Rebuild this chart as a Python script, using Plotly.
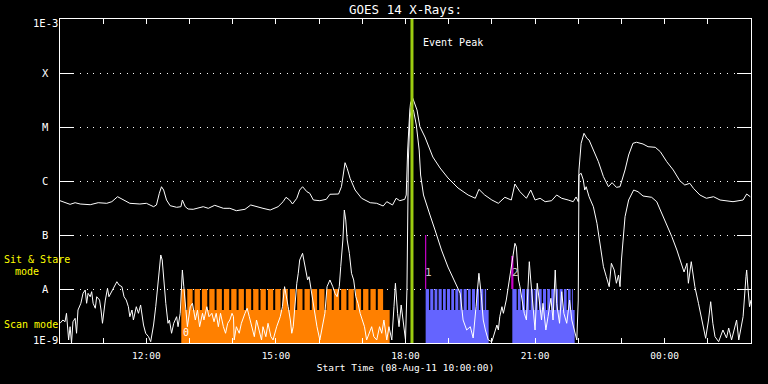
import math
import plotly.graph_objects as go
import pandas as pd

# ---------------- data (times in minutes after 2011-08-08 10:00, flux as log10 W/m^2) ----------------
START = pd.Timestamp("2011-08-08 10:00:00")

long_channel = [
    (0, -6.365), (7, -6.402), (14, -6.432), (21, -6.402), (28, -6.426), (42, -6.439), (53, -6.402),
    (65, -6.413), (72, -6.383), (80, -6.291), (88, -6.352), (97, -6.413), (111, -6.426), (120, -6.413),
    (130, -6.476), (134, -6.444), (138, -6.228), (141, -6.106), (144, -6.167), (148, -6.352), (153, -6.457),
    (162, -6.487), (168, -6.476), (170, -6.352), (174, -6.476), (178, -6.519), (185, -6.524), (199, -6.476),
    (206, -6.506), (215, -6.450), (227, -6.506), (236, -6.506), (245, -6.550), (257, -6.524), (265, -6.444),
    (273, -6.476), (282, -6.506), (292, -6.537), (303, -6.476), (310, -6.383), (314, -6.302), (319, -6.352),
    (323, -6.426), (329, -6.320), (333, -6.167), (337, -6.106), (343, -6.198), (347, -6.228), (352, -6.352),
    (361, -6.365), (370, -6.339), (375, -6.246), (387, -6.241), (391, -6.106), (394, -5.857), (396, -5.661),
    (399, -5.765), (403, -5.950), (410, -6.167), (419, -6.320), (431, -6.402), (440, -6.413), (449, -6.463),
    (454, -6.383), (462, -6.444), (467, -6.320), (472, -6.365), (479, -6.339), (481, -6.259), (483, -5.426),
    (486, -4.685), (487, -4.556), (490, -4.463), (496, -4.685), (500, -4.994), (507, -5.185), (518, -5.556),
    (528, -5.759), (539, -5.944), (553, -6.130), (567, -6.259), (577, -6.320), (582, -6.154), (590, -6.259),
    (600, -6.352), (609, -6.413), (618, -6.302), (627, -6.352), (632, -6.056), (639, -6.198), (648, -6.320),
    (654, -6.167), (660, -6.352), (667, -6.320), (674, -6.383), (683, -6.365), (690, -6.259), (697, -6.320),
    (706, -6.352), (713, -6.383), (717, -6.296), (720, -6.383), (721, -5.796), (724, -5.302), (728, -5.117),
    (732, -5.209), (735, -5.241), (741, -5.426), (748, -5.643), (755, -5.920), (762, -6.106), (767, -6.031),
    (773, -6.117), (778, -6.106), (785, -5.796), (790, -5.519), (796, -5.302), (801, -5.283), (810, -5.315),
    (817, -5.365), (827, -5.376), (834, -5.457), (843, -5.643), (852, -5.796), (861, -5.994), (868, -6.074),
    (875, -6.043), (880, -6.135), (889, -6.259), (898, -6.320), (908, -6.291), (917, -6.352), (926, -6.370),
    (935, -6.383), (949, -6.352), (954, -6.241), (959, -6.291),
]

short_channel = [
    (0, -8.635), (4, -8.574), (7, -8.606), (9, -8.450), (12, -8.944), (14, -8.698), (16, -9.0), (18, -8.606),
    (21, -8.543), (23, -8.820), (25, -8.389), (29, -8.265), (32, -8.080), (35, -8.019), (37, -8.265),
    (39, -8.080), (42, -8.143), (44, -8.050), (46, -8.265), (49, -8.357), (51, -8.143), (55, -8.204),
    (57, -8.389), (59, -8.635), (63, -8.204), (66, -7.987), (68, -8.143), (72, -8.050), (75, -7.957),
    (79, -7.865), (82, -7.926), (86, -7.957), (89, -8.143), (92, -8.204), (95, -8.328), (97, -8.513),
    (100, -8.389), (102, -8.574), (106, -8.328), (109, -8.450), (112, -8.296), (116, -8.667), (119, -8.820),
    (123, -8.883), (126, -8.976), (130, -8.667), (133, -8.328), (135, -8.019), (138, -7.587), (140, -7.370),
    (142, -7.463), (144, -7.833), (147, -8.265), (150, -8.635), (152, -8.574), (155, -8.820), (158, -8.635),
    (162, -8.513), (164, -8.698), (167, -8.450), (169, -7.894), (170, -7.648), (172, -7.957), (175, -8.450),
    (177, -8.698), (181, -8.328), (184, -8.265), (188, -8.574), (191, -8.389), (194, -8.698), (198, -8.450),
    (200, -8.574), (204, -8.328), (207, -8.513), (211, -8.450), (214, -8.606), (217, -8.450), (220, -8.698),
    (223, -8.450), (227, -8.698), (230, -8.820), (233, -8.635), (236, -8.574), (239, -8.450), (241, -8.513),
    (242, -8.944), (245, -8.698), (249, -8.820), (252, -8.635), (257, -8.450), (260, -8.357), (263, -8.513),
    (266, -8.698), (270, -8.883), (273, -8.574), (277, -8.759), (280, -8.944), (282, -8.698), (286, -8.883),
    (289, -8.635), (293, -8.883), (296, -8.944), (301, -8.698), (306, -8.513), (309, -8.328), (312, -7.957),
    (314, -8.080), (317, -8.328), (320, -8.574), (322, -8.820), (324, -8.698), (326, -8.328), (329, -7.894),
    (331, -7.709), (333, -7.463), (337, -7.339), (340, -7.524), (344, -7.833), (346, -7.772), (348, -7.957),
    (351, -8.204), (354, -8.513), (357, -8.698), (361, -8.944), (365, -8.698), (368, -8.450), (371, -7.957),
    (375, -7.833), (379, -7.957), (382, -8.080), (385, -8.143), (388, -7.957), (390, -7.587), (393, -7.093),
    (395, -6.537), (397, -6.722), (399, -7.093), (402, -7.339), (405, -7.709), (408, -7.833), (411, -8.143),
    (414, -8.265), (417, -8.450), (420, -8.574), (423, -8.698), (426, -8.944), (430, -8.820), (433, -8.698),
    (436, -8.883), (440, -8.944), (444, -8.698), (447, -8.820), (450, -8.574), (454, -8.944), (457, -8.698),
    (461, -8.944), (464, -8.328), (466, -7.894), (469, -8.450), (471, -8.698), (474, -8.296), (476, -8.513),
    (478, -8.698), (480, -8.944), (482, -8.019), (483, -6.476), (484, -5.611), (486, -4.870), (488, -4.648),
    (491, -4.685), (495, -4.963), (499, -5.426), (501, -5.889), (505, -6.259), (507, -6.352), (514, -6.630),
    (521, -6.907), (530, -7.278), (539, -7.593), (549, -7.889), (556, -8.080), (560, -8.574), (565, -8.759),
    (570, -8.698), (574, -8.907), (578, -8.328), (582, -7.709), (585, -8.080), (588, -8.574), (591, -8.759),
    (595, -8.944), (600, -8.976), (603, -8.820), (607, -8.667), (609, -8.759), (611, -8.513), (614, -8.328),
    (616, -8.450), (620, -8.204), (623, -7.957), (625, -7.772), (629, -7.463), (632, -7.154), (634, -7.217),
    (637, -7.833), (639, -7.957), (641, -8.143), (645, -8.450), (648, -8.574), (652, -7.494), (654, -7.833),
    (657, -8.328), (660, -8.759), (663, -7.894), (666, -8.265), (669, -8.574), (671, -8.265), (675, -8.759),
    (678, -8.513), (682, -8.172), (685, -8.574), (688, -7.648), (690, -8.265), (694, -8.635), (697, -8.050),
    (700, -8.450), (704, -8.635), (708, -8.204), (711, -8.574), (714, -8.759), (718, -8.944), (720, -8.204),
    (721, -5.889), (724, -5.857), (727, -5.981), (729, -6.167), (731, -6.106), (735, -6.291), (741, -6.476),
    (746, -6.783), (750, -7.154), (755, -7.587), (759, -7.772), (763, -7.957), (766, -7.524), (770, -7.648),
    (773, -7.894), (776, -7.741), (778, -7.957), (780, -7.463), (785, -6.661), (790, -6.352), (797, -6.167),
    (803, -6.198), (810, -6.278), (822, -6.302), (829, -6.383), (836, -6.598), (843, -6.846), (850, -7.031),
    (857, -7.278), (864, -7.587), (867, -7.685), (871, -7.524), (873, -7.894), (877, -7.494), (882, -7.957),
    (887, -8.265), (891, -8.513), (894, -8.759), (897, -8.913), (901, -8.574), (904, -8.235), (907, -8.635),
    (910, -8.883), (915, -8.976), (921, -8.759), (926, -8.907), (929, -8.722), (933, -8.944), (940, -8.574),
    (943, -8.944), (947, -8.635), (949, -8.513), (953, -7.772), (954, -7.648), (956, -8.019), (958, -8.328),
    (960, -8.204),
]

# observation periods (minutes after start): base span and "sit & stare" teeth
orange_span = (168.5, 458.0)
orange_teeth = [
    (168.5, 174.1), (176.8, 184.2), (187.0, 194.4), (197.2, 204.6), (207.4, 214.8), (217.5, 224.9),
    (227.7, 235.1), (237.9, 245.3), (248.1, 255.5), (258.2, 265.6), (268.4, 275.8), (278.6, 286.0),
    (288.8, 296.2), (299.0, 306.4), (309.1, 316.5), (319.3, 326.7), (329.5, 336.9), (339.7, 347.1),
    (349.8, 357.2), (360.0, 367.4), (370.2, 377.6), (380.4, 387.8), (390.6, 398.0), (400.7, 408.1),
    (410.9, 418.3), (421.1, 428.5), (431.3, 438.7), (441.5, 448.9),
]
blue1_span = (508.0, 595.5)
blue1_teeth = [
    (508.0, 512.6), (514.4, 518.6), (520.4, 524.2), (526.0, 530.3), (532.1, 535.9), (537.7, 541.8),
    (543.6, 547.4), (549.2, 553.4), (555.2, 558.9), (560.7, 565.1), (566.9, 570.6), (572.4, 576.6),
    (578.4, 582.1), (583.9, 588.2), (590.0, 592.0),
]
blue2_span = (628.4, 715.0)
blue2_teeth = [
    (628.4, 634.4), (636.2, 640.0), (641.8, 646.0), (647.8, 652.0), (653.8, 657.5), (659.3, 663.6),
    (665.4, 669.2), (671.0, 675.2), (677.0, 680.7), (682.5, 686.7), (688.5, 692.2), (694.0, 698.3),
    (700.1, 703.9), (705.7, 709.4), (711.2, 712.5),
]
FLOOR = 1e-9
SCAN_LEVEL = 4.1e-9
STARE_LEVEL = 1e-8

event_peak_min = 489
markers = [(508.0, 1e-7, 1e-8, "1"), (628.4, 4.1e-8, 1e-8, "2")]
zero_label_min = 175.7

y_tick_vals = [1e-9, 1e-8, 1e-7, 1e-6, 1e-5, 1e-4, 1e-3]
y_tick_labels = ["1E-9", "A", "B", "C", "M", "X", "1E-3"]
x_tick_hours = list(range(10, 27))
x_tick_labels = {12: "12:00", 15: "15:00", 18: "18:00", 21: "21:00", 24: "00:00"}


def t(m):
    return START + pd.Timedelta(minutes=m)


def comb(span, teeth):
    xs, ys = [], []
    a, b = span
    xs += [t(a), t(b), t(b), t(a), t(a), None]
    ys += [FLOOR, FLOOR, SCAN_LEVEL, SCAN_LEVEL, FLOOR, None]
    for a, b in teeth:
        xs += [t(a), t(b), t(b), t(a), t(a), None]
        ys += [FLOOR, FLOOR, STARE_LEVEL, STARE_LEVEL, FLOOR, None]
    return xs, ys


fig = go.Figure()

ORANGE = "#ff8000"
BLUE = "#6464ff"
for span, teeth, col in [(orange_span, orange_teeth, ORANGE), (blue1_span, blue1_teeth, BLUE),
                         (blue2_span, blue2_teeth, BLUE)]:
    xs, ys = comb(span, teeth)
    fig.add_trace(go.Scatter(x=xs, y=ys, mode="lines", fill="toself", fillcolor=col,
                             line=dict(width=0, color=col), hoverinfo="skip", showlegend=False))

for (m, top, bot, lab), w in zip(markers, [1.2, 2.2]):
    fig.add_trace(go.Scatter(x=[t(m), t(m)], y=[bot, top], mode="lines",
                             line=dict(color="#c800c8", width=w), showlegend=False))

for series in (short_channel, long_channel):
    fig.add_trace(go.Scatter(x=[t(m) for m, v in series], y=[10 ** v for m, v in series],
                             mode="lines", line=dict(color="white", width=1), showlegend=False))

fig.add_trace(go.Scatter(x=[t(event_peak_min), t(event_peak_min)], y=[1e-9, 1e-3], mode="lines",
                         line=dict(color="#9ccc10", width=3), showlegend=False))

MONO = "DejaVu Sans Mono"
ann = []
for v, lab in zip(y_tick_vals, y_tick_labels):
    shift = -4 if lab == "1E-3" else (3 if lab == "1E-9" else 0)
    ann.append(dict(x=-15 / 691, xref="paper", y=math.log10(v), yref="y", text=lab,
                    showarrow=False, xanchor="center", yanchor="middle", yshift=shift,
                    font=dict(family=MONO, size=10.5, color="white")))
ann.append(dict(x=-58 / 691, xref="paper", y=(343 - 259) / 324, yref="paper", text="Sit & Stare",
                showarrow=False, xanchor="left", yanchor="middle", font=dict(family=MONO, size=10, color="#ffff00")))
ann.append(dict(x=-47.3 / 691, xref="paper", y=(343 - 271) / 324, yref="paper", text="mode",
                showarrow=False, xanchor="left", yanchor="middle", font=dict(family=MONO, size=10, color="#ffff00")))
ann.append(dict(x=-58 / 691, xref="paper", y=(343 - 324) / 324, yref="paper", text="Scan mode",
                showarrow=False, xanchor="left", yanchor="middle", font=dict(family=MONO, size=10, color="#ffff00")))
ann.append(dict(x=t(501.5), xref="x", y=(343 - 42.7) / 324, yref="paper", text="Event Peak",
                showarrow=False, xanchor="left", yanchor="middle", font=dict(family=MONO, size=10, color="white")))
for (m, top, bot, lab) in markers:
    ann.append(dict(x=t(m + 4.5), xref="x", y=(343 - 272) / 324, yref="paper", text=lab,
                    showarrow=False, xanchor="center", yanchor="middle",
                    font=dict(family=MONO, size=11, color="#c8c8c8")))
ann.append(dict(x=t(zero_label_min), xref="x", y=(343 - 332.7) / 324, yref="paper", text="0",
                showarrow=False, xanchor="center", yanchor="middle",
                font=dict(family=MONO, size=10, color="white")))

fig.update_layout(
    width=768, height=384,
    margin=dict(l=60, r=17, t=19, b=41),
    paper_bgcolor="black", plot_bgcolor="black",
    showlegend=False,
    title=dict(text="GOES 14 X-Rays:", x=0.5, xref="paper", xanchor="center",
               y=1 - 9.5 / 384, yref="container", yanchor="middle",
               font=dict(family=MONO, size=12.5, color="white")),
    annotations=ann,
)
fig.update_xaxes(
    range=[t(0), t(960)],
    tickvals=[t(60 * (h - 10)) for h in x_tick_hours],
    ticktext=[x_tick_labels.get(h, "") for h in x_tick_hours],
    ticks="inside", ticklen=5, tickcolor="white", tickwidth=1,
    mirror="allticks", showline=True, linecolor="white", linewidth=1,
    showgrid=False, zeroline=False,
    tickfont=dict(family=MONO, size=9.5, color="white"),
    ticklabelstandoff=4,
    title=dict(text="Start Time (08-Aug-11 10:00:00)", standoff=3,
               font=dict(family=MONO, size=9.5, color="white")),
)
fig.update_yaxes(
    type="log", range=[-9, -3],
    tickvals=y_tick_vals, showticklabels=False,
    ticks="inside", ticklen=14, tickcolor="white", tickwidth=1,
    mirror="allticks", showline=True, linecolor="white", linewidth=1,
    showgrid=True, gridcolor="white", gridwidth=1, griddash="1px,5.67px",
    zeroline=False,
)

fig.write_html("out.html", config={"displayModeBar": False},
               post_script="document.body.style.margin='0';document.body.style.background='black';")
